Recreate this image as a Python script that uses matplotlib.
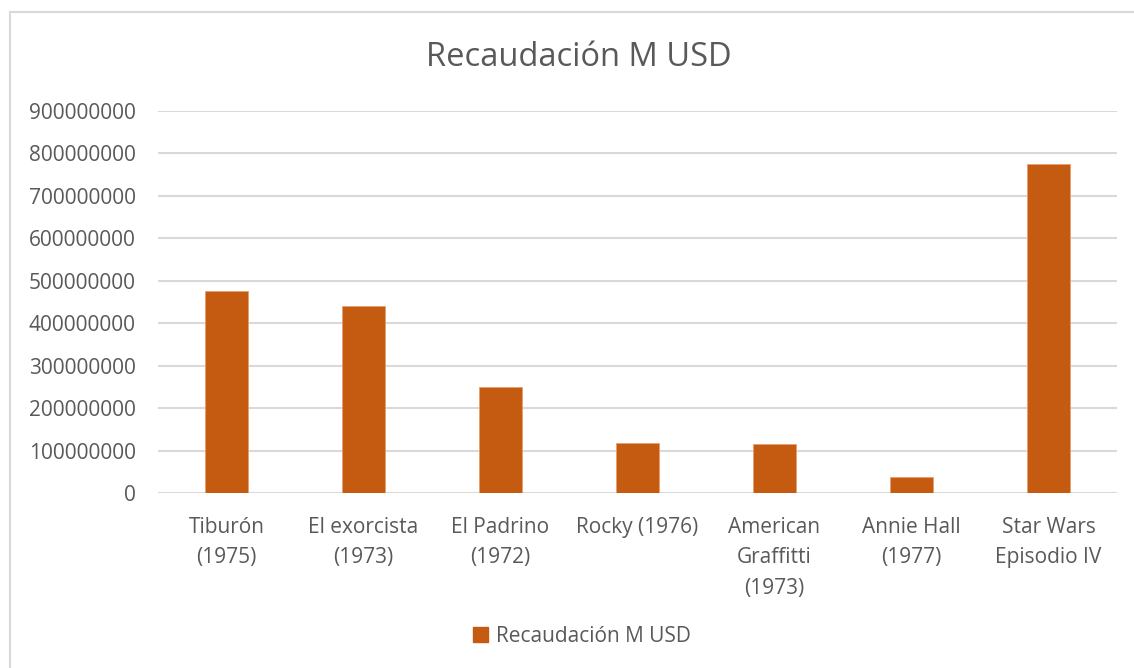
import matplotlib.pyplot as plt
from matplotlib.lines import Line2D
from matplotlib.patches import Patch
from matplotlib.ticker import MultipleLocator, FuncFormatter

peliculas = ['Tiburón\n(1975)', 'El exorcista\n(1973)', 'El Padrino\n(1972)',
             'Rocky (1976)', 'American\nGraffitti\n(1973)', 'Annie Hall\n(1977)',
             'Star Wars\nEpisodio IV']
recaudacion = [476000000, 441000000, 250000000, 117000000, 116000000, 38000000, 775000000]
serie = 'Recaudación M USD'

W, H = 1134, 668
gris = '#595959'
naranja = '#C55A11'
plt.rcParams['font.family'] = ['Open Sans', 'DejaVu Sans']

fig = plt.figure(figsize=(W / 100, H / 100), dpi=100)
ax = fig.add_axes([158 / W, 1 - 493 / H, (1117 - 158) / W, (493 - 111) / H])

x = range(len(peliculas))
ax.bar(x, recaudacion, width=0.31, color=naranja, edgecolor='#E8A070', linewidth=0.6, zorder=3)

ax.set_xlim(-0.5, len(peliculas) - 0.5)
ax.set_ylim(0, 900000000)
ax.yaxis.set_major_locator(MultipleLocator(100000000))
ax.yaxis.set_major_formatter(FuncFormatter(lambda v, p: '%d' % v))
ax.grid(axis='y', color='#D9D9D9', linewidth=1.5, zorder=0)
for s in ax.spines.values():
    s.set_visible(False)
ax.tick_params(axis='both', length=0, colors=gris, labelsize=15)
ax.tick_params(axis='y', pad=16)
ax.tick_params(axis='x', pad=17)
ax.set_xticks(list(x))
ax.set_xticklabels(peliculas, linespacing=1.6)

fig.text(0.51, 1 - 58 / H, serie, ha='center', va='center', fontsize=23.5, color=gris)

fig.legend(handles=[Patch(color=naranja, label=serie)], loc='center',
           bbox_to_anchor=(582 / W, 1 - 636 / H), frameon=False, fontsize=15,
           labelcolor=gris, handlelength=0.7, handleheight=0.7, handletextpad=0.4)

# chart border (cut off on right and bottom)
fig.add_artist(Line2D([10 / W, 10 / W], [0, 1 - 12 / H], color='#D9D9D9', linewidth=1.5))
fig.add_artist(Line2D([10 / W, 1133 / W], [1 - 12 / H, 1 - 12 / H], color='#D9D9D9', linewidth=1.5))

fig.savefig('out.png', dpi=100)
